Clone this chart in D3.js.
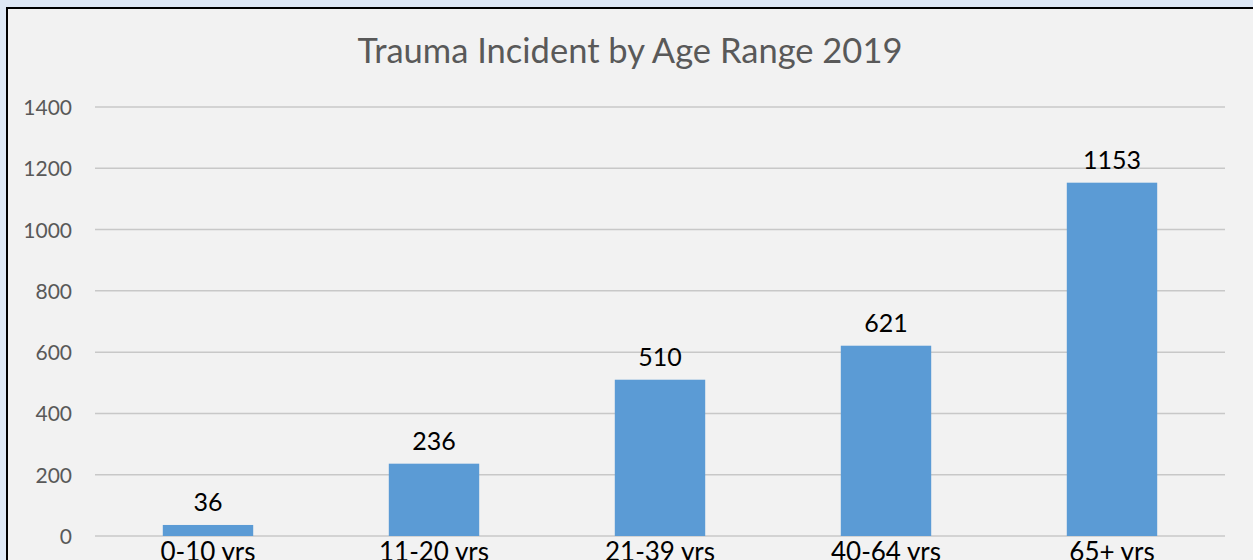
<!DOCTYPE html>
<html>
<head>
<meta charset="utf-8">
<script src="https://cdn.jsdelivr.net/npm/d3@7"></script>
<style>
  html, body { margin: 0; padding: 0; background: #dee8f5; overflow: hidden; }
  text { font-family: Lato, "Open Sans", sans-serif; }
</style>
</head>
<body>
<div id="chart"></div>
<script>
const ageRanges = ["0-10 yrs", "11-20 yrs", "21-39 yrs", "40-64 yrs", "65+ yrs"];
const incidents = [36, 236, 510, 621, 1153];
const yTicks = [0, 200, 400, 600, 800, 1000, 1200, 1400];
const chartTitle = "Trauma Incident by Age Range 2019";

const width = 1253, height = 560;
const svg = d3.select("#chart").append("svg")
    .attr("width", width)
    .attr("height", height);

// chart area with black border on top / left
svg.append("rect")
    .attr("x", 7).attr("y", 8)
    .attr("width", width + 20).attr("height", height + 20)
    .attr("fill", "#f2f2f2")
    .attr("stroke", "#000")
    .attr("stroke-width", 2);

const x = d3.scaleBand()
    .domain(ageRanges)
    .range([95, 1225])
    .paddingInner(0.6)
    .paddingOuter(0.3);

const y = d3.scaleLinear()
    .domain([0, 1400])
    .range([536, 107]);

svg.append("text")
    .attr("x", 630).attr("y", 63)
    .attr("text-anchor", "middle")
    .attr("fill", "#595959")
    .attr("font-size", 34.5)
    .text(chartTitle);

// gridlines
svg.append("g")
    .selectAll("line")
    .data(yTicks)
    .join("line")
    .attr("x1", 95).attr("x2", 1225)
    .attr("y1", d => y(d)).attr("y2", d => y(d))
    .attr("stroke", "#c8c8c8")
    .attr("stroke-width", 1.5);

// y tick labels
svg.append("g")
    .selectAll("text")
    .data(yTicks)
    .join("text")
    .attr("x", 72)
    .attr("y", d => y(d) + 8)
    .attr("text-anchor", "end")
    .attr("fill", "#595959")
    .attr("font-size", 21)
    .text(d => d);

// bars
svg.append("g")
    .selectAll("rect")
    .data(incidents)
    .join("rect")
    .attr("x", (d, i) => x(ageRanges[i]))
    .attr("y", d => y(d))
    .attr("width", x.bandwidth())
    .attr("height", d => y(0) - y(d))
    .attr("fill", "#5b9bd5");

// value labels
svg.append("g")
    .selectAll("text")
    .data(incidents)
    .join("text")
    .attr("x", (d, i) => x(ageRanges[i]) + x.bandwidth() / 2)
    .attr("y", d => y(d) - 14)
    .attr("text-anchor", "middle")
    .attr("fill", "#000")
    .attr("font-size", 25)
    .text(d => d);

// category labels
svg.append("g")
    .selectAll("text")
    .data(ageRanges)
    .join("text")
    .attr("x", d => x(d) + x.bandwidth() / 2)
    .attr("y", 561)
    .attr("text-anchor", "middle")
    .attr("fill", "#000")
    .attr("font-size", 26)
    .text(d => d);
</script>
</body>
</html>
